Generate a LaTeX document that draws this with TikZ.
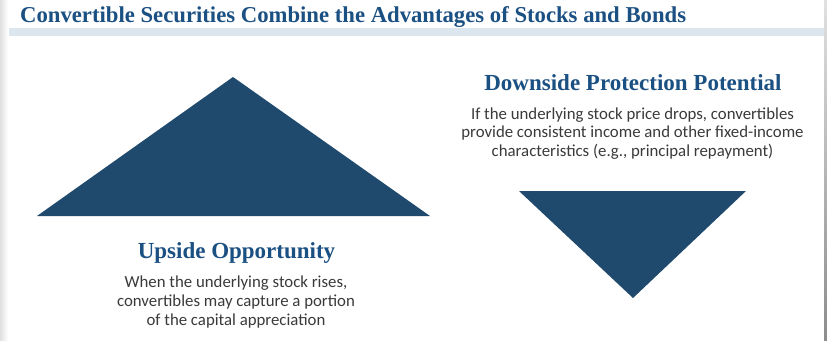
\documentclass[tikz,border=0pt]{standalone}
\usepackage{fontspec}
\newfontfamily\bodyfont{Carlito}
\newfontfamily\headfont{Liberation Serif}
\usetikzlibrary{positioning}

\definecolor{navy}{HTML}{1F4A6E}
\definecolor{headblue}{HTML}{1B5083}
\definecolor{bandblue}{HTML}{DCE6EF}
\definecolor{bodygray}{HTML}{3A3A3A}

\tikzset{
  heading/.style={inner sep=0pt, text=headblue, font=\headfont\bfseries\fontsize{23}{25}\selectfont},
  bodytext/.style={inner sep=0pt, align=center, text=bodygray, font=\bodyfont\fontsize{16.8}{18.6}\selectfont}
}

\begin{document}
\begin{tikzpicture}[x=1pt, y=-1pt]

        % frame
        \useasboundingbox (0,0) rectangle (827,340);
        \fill[white] (0,0) rectangle (827,340);
        \shade[left color=black!12, right color=white] (0,0) rectangle (8,340);
        \shade[top color=black!12, bottom color=black!45] (824,0) rectangle (827,340);
        \fill[bandblue] (9,28.3) rectangle (824,35.7);

        % title
        \node[heading, font=\headfont\bfseries\fontsize{22.7}{25}\selectfont, anchor=base west] (title) at (20,23) {Convertible Securities Combine the Advantages of Stocks and Bonds};

        % triangles
        \fill[navy] (37,216) -- (233,77) -- (430,216) -- cycle;
        \fill[navy] (519,191) -- (746,191) -- (633,298) -- cycle;

        % upside
        \node[heading] (up) at (236.5,253) {Upside Opportunity};
        \node[bodytext] (upText) at (236,302) {When the underlying stock rises,\\convertibles may capture a portion\\of the capital appreciation};

        % downside
        \node[heading] (down) at (633,83) {Downside Protection Potential};
        \node[bodytext] (downText) at (632.5,133.5) {If the underlying stock price drops, convertibles\\provide consistent income and other fixed-income\\characteristics (e.g., principal repayment)};

\end{tikzpicture}
\end{document}
